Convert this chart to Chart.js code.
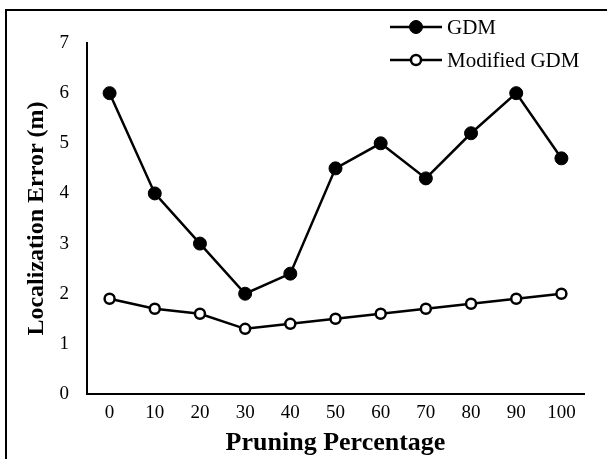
<!DOCTYPE html>
<html>
<head>
<meta charset="utf-8">
<script src="https://cdn.jsdelivr.net/npm/chart.js"></script>
<style>
  html, body { margin: 0; padding: 0; background: #fff; overflow: hidden; }
  #wrap { position: relative; width: 607px; height: 459px; }
  #frame { position: absolute; left: 5px; top: 9px; width: 700px; height: 600px;
           border: 2px solid #000; pointer-events: none; }
  canvas { position: absolute; left: 0; top: 0; }
</style>
</head>
<body>
<div id="wrap">
  <canvas id="myChart" width="607" height="459"></canvas>
  <div id="frame"></div>
</div>
<script>
// values
const pruning = ["0", "10", "20", "30", "40", "50", "60", "70", "80", "90", "100"];
const gdm = [6, 4, 3, 2, 2.4, 4.5, 5, 4.3, 5.2, 6, 4.7];
const modifiedGdm = [1.9, 1.7, 1.6, 1.3, 1.4, 1.5, 1.6, 1.7, 1.8, 1.9, 2.0];
const seriesNames = ["GDM", "Modified GDM"];
const yMin = 0, yMax = 7, yStep = 1;

const serif = "'Liberation Serif', 'Times New Roman', serif";

// legend in the top right corner: line with marker, then the name
const lineLegend = {
  id: "lineLegend",
  afterDraw(chart) {
    const ctx = chart.ctx;
    const area = chart.chartArea;
    const x0 = area.right - 194;
    chart.data.datasets.forEach(function (ds, i) {
      const y = area.top - 16 + i * 33;
      ctx.save();
      ctx.strokeStyle = "#000";
      ctx.lineWidth = 2.5;
      ctx.beginPath();
      ctx.moveTo(x0, y);
      ctx.lineTo(x0 + 52, y);
      ctx.stroke();
      ctx.beginPath();
      ctx.arc(x0 + 26, y, ds.pointRadius, 0, Math.PI * 2);
      ctx.fillStyle = ds.pointBackgroundColor;
      ctx.fill();
      ctx.lineWidth = ds.pointBorderWidth;
      ctx.stroke();
      ctx.fillStyle = "#000";
      ctx.font = "21px " + serif;
      ctx.textBaseline = "middle";
      ctx.fillText(ds.label, x0 + 57, y + 1);
      ctx.restore();
    });
  }
};

new Chart("myChart", {
  type: "line",
  data: {
    labels: pruning,
    datasets: [{
      label: seriesNames[0],
      data: gdm,
      borderColor: "#000",
      borderWidth: 2.5,
      pointRadius: 6.5,
      pointBackgroundColor: "#000",
      pointBorderColor: "#000",
      pointBorderWidth: 1,
      tension: 0
    }, {
      label: seriesNames[1],
      data: modifiedGdm,
      borderColor: "#000",
      borderWidth: 2.5,
      pointRadius: 5,
      pointBackgroundColor: "#fff",
      pointBorderColor: "#000",
      pointBorderWidth: 2.5,
      tension: 0
    }]
  },
  options: {
    responsive: false,
    animation: false,
    clip: false,
    layout: { padding: { left: 0, top: 43, right: 23, bottom: 0 } },
    plugins: {
      legend: { display: false },
      tooltip: { enabled: false }
    },
    scales: {
      x: {
        offset: true,
        grid: { display: false, drawTicks: false },
        border: { display: true, color: "#000", width: 2 },
        ticks: { color: "#000", padding: 8, font: { family: serif, size: 19 } },
        title: {
          display: true,
          text: "Pruning Percentage",
          color: "#000",
          padding: { top: 0, bottom: 0 },
          font: { family: serif, size: 26, weight: "bold" }
        },
        afterFit(scale) { scale.height = 65; }
      },
      y: {
        min: yMin,
        max: yMax,
        grid: { display: false, drawTicks: false },
        border: { display: true, color: "#000", width: 2 },
        ticks: { stepSize: yStep, color: "#000", padding: 18, font: { family: serif, size: 19 } },
        title: {
          display: true,
          text: "Localization Error (m)",
          color: "#000",
          padding: { top: 22, bottom: 0 },
          font: { family: serif, size: 24, weight: "bold" }
        },
        afterFit(scale) { scale.width = 87; }
      }
    }
  },
  plugins: [lineLegend]
});
</script>
</body>
</html>
